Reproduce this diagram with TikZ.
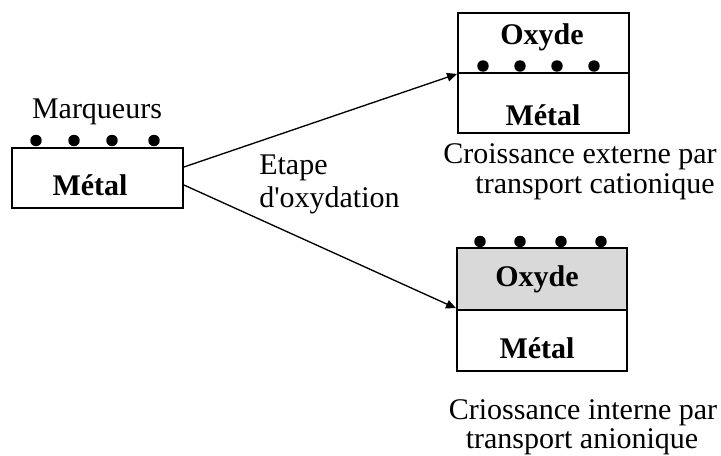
\documentclass[tikz,border=0pt]{standalone}
\usepackage{fontspec}
\setmainfont{Liberation Serif}[Ligatures=TeXOff]
\usetikzlibrary{arrows.meta}
\definecolor{oxgray}{HTML}{D9D9D9}
\begin{document}
\begin{tikzpicture}[x=0.75pt,y=-0.75pt,
  every node/.style={font=\fontsize{22.5}{22.5}\selectfont},
  layer/.style={draw, line width=1.4pt, minimum width=128.25pt,
    minimum height=45pt, inner sep=0pt},
  txt/.style={inner sep=0pt},
  bold/.style={inner sep=0pt, font=\fontsize{22.5}{22.5}\selectfont\bfseries},
  marker/.style={fill=black},
  flow/.style={line width=1pt, -{Triangle[length=7.5pt,width=6.5pt]}}
]
\useasboundingbox (0,0) rectangle (721,456);

% starting metal piece with surface markers
\node[layer] (metal0) at (97.5,178) {};
\node[bold] (metal0txt) at (90,185) {Métal};
\node[txt] (markers) at (97,112) {Marqueurs};
\foreach \x in {36,74,112,154} \fill[marker] (\x,140.5) circle (4.3pt);

% external growth: markers stay at the metal/oxide interface
\node[layer] (oxyde1) at (543.5,43) {};
\node[layer] (metal1) at (543.5,103) {};
\node[bold] (oxyde1txt) at (542,37) {Oxyde};
\node[bold] (metal1txt) at (543,115) {Métal};
\foreach \x in {483,520,557,594} \fill[marker] (\x,66) circle (4.3pt);
\node[txt] (cap1a) at (580,157) {Croissance externe par};
\node[txt] (cap1b) at (595,187) {transport cationique};

% internal growth: markers stay on the outer surface
\node[layer, fill=oxgray, minimum width=127.5pt, minimum height=46.5pt] (oxyde2) at (542,279) {};
\node[layer, minimum width=127.5pt, minimum height=45.75pt] (metal2) at (542,340.5) {};
\node[bold] (oxyde2txt) at (537,279) {Oxyde};
\node[bold] (metal2txt) at (537,348) {Métal};
\foreach \x in {480,520,561,601} \fill[marker] (\x,241.5) circle (4.3pt);
\node[txt] (cap2a) at (583,413) {Criossance interne par};
\node[txt] (cap2b) at (582,442) {transport anionique};

% oxidation step
\node[txt, anchor=west] (step1) at (259,168) {Etape};
\node[txt, anchor=west] (step2) at (259,200) {d'oxydation};
\draw[flow] ([yshift=8.25pt]metal0.east) -- (oxyde1.south west);
\draw[flow] ([yshift=-5.25pt]metal0.east) -- ([yshift=2pt]oxyde2.south west);
\end{tikzpicture}
\end{document}
